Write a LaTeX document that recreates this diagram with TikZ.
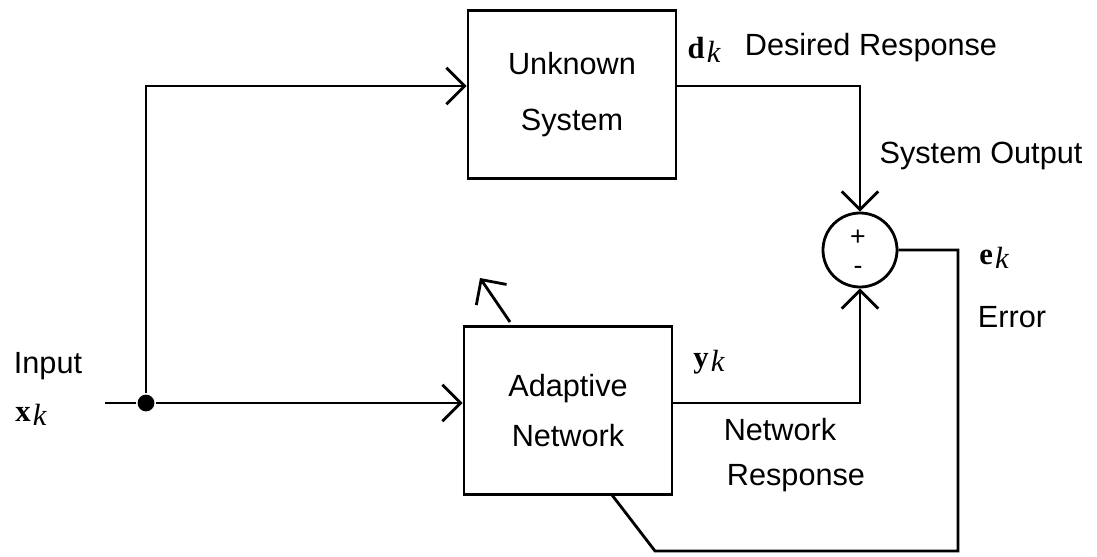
\documentclass[tikz,border=0pt]{standalone}
\usepackage{fontspec}
\setmainfont{Liberation Sans}
\newfontfamily\symfont{Liberation Serif}
\usepackage{tikz}
\usetikzlibrary{positioning, arrows.meta, calc}
\newcommand{\sig}[1]{{\symfont\textbf{#1}\kern1.5pt\raisebox{-0.3ex}{\itshape k}}}

\begin{document}
\begin{tikzpicture}[
    x=0.025cm, y=-0.025cm,
    line width=2pt,
    block/.style={draw, minimum width=5.2cm, minimum height=4.2cm, align=center,
                  font=\fontsize{21.8}{40}\selectfont},
    lbl/.style={font=\fontsize{21.8}{26}\selectfont, inner sep=0pt},
    arr/.style={-{Straight Barb[length=13pt, width=26pt, line width=2pt]}},
]
    \useasboundingbox (0,0) rectangle (1097,557);

    % Blocks
    \node[block] (unk) at (572, 94.5) {Unknown\\System};
    \node[block, font=\fontsize{21.8}{35}\selectfont] (adapt) at (568, 410.5) {Adaptive\\Network};
    \node[draw, circle, minimum size=1.85cm, inner sep=0pt] (sum) at (860, 250) {};
    \node[font=\fontsize{19}{19}\selectfont] (plus) at (858, 238) {+};
    \node[font=\fontsize{19}{19}\selectfont] (minus) at (858, 270) {-};

    % Input and branch point
    \coordinate (in) at (105, 403);
    \node[circle, fill, inner sep=0pt, minimum size=0.42cm] (dot) at (146, 403) {};
    \coordinate (up) at (146, 86);

    \draw (in) -- (dot);
    \draw[arr] (dot) -- (dot -| adapt.west);
    \draw[arr] (dot) -- (up) -- (up -| unk.west);

    % Outputs into the sum
    \coordinate (dtop) at (860, 86);
    \coordinate (ybot) at (860, 403);
    \draw[arr] (unk.east |- dtop) -- (dtop) -- (sum.north);
    \draw[arr] (adapt.east |- ybot) -- (ybot) -- (sum.south);

    % Error feedback
    \coordinate (ecorner) at (958, 250);
    \coordinate (bcorner) at (958, 551);
    \coordinate (lcorner) at (655, 551);
    \coordinate (fb) at (612, 495);
    \draw (sum.east) -- (ecorner) -- (bcorner) -- (lcorner) -- (fb);

    % Adaptation arrow
    \coordinate (tap) at (510, 322);
    \coordinate (tip) at (480, 278);
    \draw[arr] (tap) -- (tip);

    % Labels
    \node[lbl] (dk) at (704, 50) {\sig{d}};
    \node[lbl] (desired) at (871, 48) {Desired Response};
    \node[lbl] (sysout) at (981, 156) {System Output};
    \node[lbl] (ek) at (994, 258) {\sig{e}};
    \node[lbl] (err) at (1012, 317) {Error};
    \node[lbl] (yk) at (709, 362) {\sig{y}};
    \node[lbl] (netw) at (780, 430) {Network};
    \node[lbl] (resp) at (796, 478) {Response};
    \node[lbl] (inp) at (48, 366) {Input};
    \node[lbl] (xk) at (31, 415) {\sig{x}};
\end{tikzpicture}
\end{document}
